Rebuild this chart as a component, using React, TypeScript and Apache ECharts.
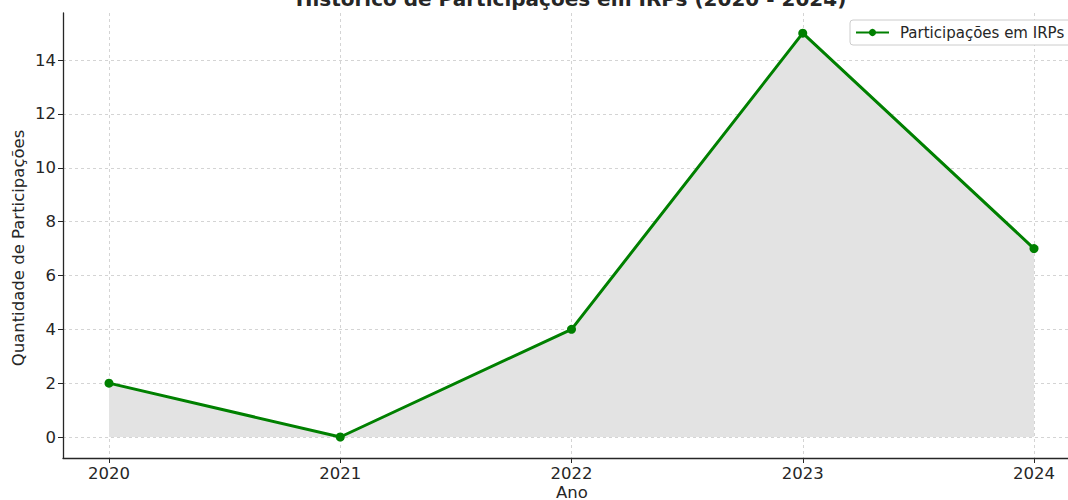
import React, { useEffect, useRef } from "react";
import * as echarts from "echarts";

const years = [2020, 2021, 2022, 2023, 2024];
const participacoes = [2, 0, 4, 15, 7];
const yTicks = [0, 2, 4, 6, 8, 10, 12, 14];
const xTicks = [2020, 2021, 2022, 2023, 2024];
const seriesName = "Participações em IRPs";
const titleText = "Histórico de Participações em IRPs (2020 - 2024)";
const xName = "Ano";
const yName = "Quantidade de Participações";

const FONT = "DejaVu Sans";
const TEXT = "#262626";

export default function App() {
  const ref = useRef<HTMLDivElement>(null);
  useEffect(() => {
    if (!ref.current) return;
    const chart = echarts.init(ref.current, null, { renderer: "svg" });
    const gridLine = { show: true, lineStyle: { color: "#cfcfcf", type: [3, 3] as any, width: 0.9 } };
    chart.setOption({
      animation: false,
      textStyle: { fontFamily: FONT },
      grid: { left: 63, top: 13, right: 0, height: 445, containLabel: false },
      graphic: [
        {
          type: "text",
          x: 571,
          y: 9,
          style: {
            text: titleText,
            font: `bold 20px "${FONT}"`,
            fill: TEXT,
            align: "center",
            verticalAlign: "bottom",
          },
        },
        {
          type: "text",
          x: 572,
          y: 484,
          style: { text: xName, font: `16.5px "${FONT}"`, fill: TEXT, align: "center", verticalAlign: "top" },
        },
        {
          type: "text",
          x: 18,
          y: 248,
          rotation: Math.PI / 2,
          style: { text: yName, font: `16.5px "${FONT}"`, fill: TEXT, align: "center", verticalAlign: "middle" },
        },
      ],
      legend: {
        show: true,
        left: 850,
        top: 20,
        padding: [5, 12, 5, 5],
        itemWidth: 33,
        itemHeight: 9,
        backgroundColor: "#ffffff",
        borderColor: "#cccccc",
        borderWidth: 1,
        borderRadius: 3,
        textStyle: { fontFamily: FONT, fontSize: 15, color: TEXT, padding: [0, 0, 0, 6] },
        data: [seriesName],
      },
      xAxis: {
        type: "value",
        min: 2019.8011,
        max: 2024.147,
        axisLine: { show: true, onZero: false, lineStyle: { color: TEXT, width: 1.3 } },
        axisTick: { show: true, length: 5, customValues: xTicks, lineStyle: { color: TEXT } },
        axisLabel: {
          customValues: xTicks,
          fontSize: 16.5,
          color: TEXT,
          fontFamily: FONT,
          margin: 7,
          formatter: (v: number) => String(v),
        },
        splitLine: gridLine,
      },
      yAxis: {
        type: "value",
        min: -0.78,
        max: 15.75,
        axisLine: { show: true, onZero: false, lineStyle: { color: TEXT, width: 1.3 } },
        axisTick: { show: true, length: 5, customValues: yTicks, lineStyle: { color: TEXT } },
        axisLabel: {
          customValues: yTicks,
          fontSize: 16.5,
          color: TEXT,
          fontFamily: FONT,
          margin: 7,
        },
        splitLine: gridLine,
      },
      series: [
        {
          name: seriesName,
          type: "line",
          data: years.map((y, i) => [y, participacoes[i]]),
          symbol: "circle",
          symbolSize: 9,
          itemStyle: { color: "#008000" },
          lineStyle: { color: "#008000", width: 3 },
          areaStyle: { color: "#e3e3e3", opacity: 1, origin: 0 },
          z: 3,
        },
      ],
    });
    return () => chart.dispose();
  }, []);
  return (
    <div
      ref={ref}
      style={{ position: "absolute", left: 0, top: 0, width: 1068, height: 500, background: "#ffffff" }}
    />
  );
}
